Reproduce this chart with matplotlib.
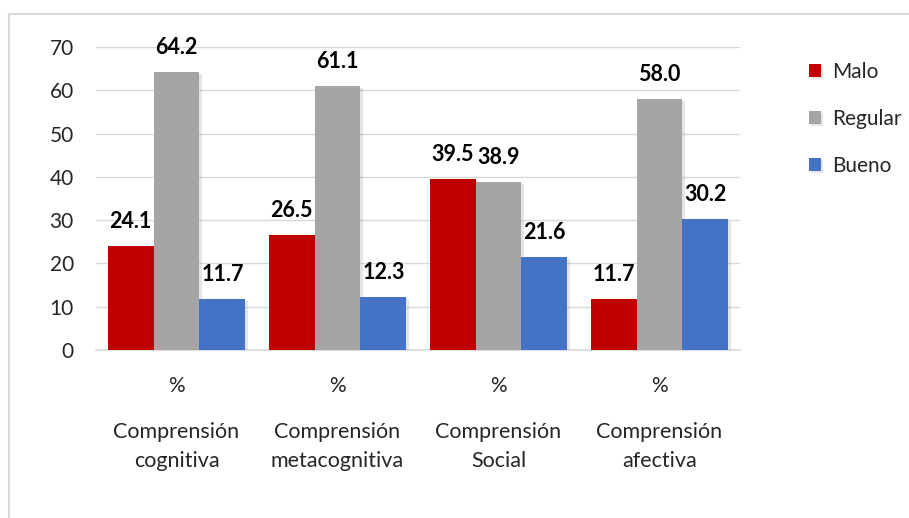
import matplotlib
matplotlib.use("Agg")
import matplotlib.pyplot as plt
import matplotlib.patheffects as pe
from matplotlib.lines import Line2D
import numpy as np

categories = ["Comprensión\ncognitiva", "Comprensión\nmetacognitiva",
              "Comprensión\nSocial", "Comprensión\nafectiva"]
series_names = ["Malo", "Regular", "Bueno"]
malo = [24.1, 26.5, 39.5, 11.7]
regular = [64.2, 61.1, 38.9, 58.0]
bueno = [11.7, 12.3, 21.6, 30.2]
yticks = [0, 10, 20, 30, 40, 50, 60, 70]

colors = ["#C00000", "#A5A5A5", "#4472C4"]
plt.rcParams["font.family"] = ["Lato", "DejaVu Sans"]
text_color = "#262626"

fig = plt.figure(figsize=(9.09, 5.18), dpi=100)
ax = fig.add_axes([96 / 909, 1 - 350 / 518, (740 - 96) / 909, (350 - 47) / 518])

x = np.arange(len(categories))
width = 0.2857
shadow = [pe.SimplePatchShadow(offset=(1.5, -1.5), shadow_rgbFace="#808080", alpha=0.2), pe.Normal()]
for i, (vals, name) in enumerate(zip([malo, regular, bueno], series_names)):
    pos = x + (i - 1) * width
    bars = ax.bar(pos, vals, width, color=colors[i], label=name, zorder=3)
    for b in bars:
        b.set_path_effects(shadow)
    for p, v in zip(pos, vals):
        ax.annotate(f"{v:.1f}", (p, v), xytext=(0, 10), textcoords="offset points",
                    ha="center", va="bottom", fontsize=15.5, fontweight="bold",
                    color="#000000", zorder=5, annotation_clip=False)

ax.set_xlim(-0.5, len(categories) - 0.5)
ax.set_ylim(0, 70)
ax.set_yticks(yticks)
ax.tick_params(axis="y", length=0, labelsize=15, pad=16, labelcolor=text_color)
ax.set_xticks(x)
ax.set_xticklabels(["%"] * len(categories))
ax.tick_params(axis="x", length=0, labelsize=15, pad=19, labelcolor=text_color)
for xi, cat in zip(x, categories):
    ax.annotate(cat, (xi, 0), xytext=(0, -52), textcoords="offset points",
                xycoords=("data", "axes fraction"), ha="center", va="top",
                fontsize=15.5, color=text_color, linespacing=1.55, annotation_clip=False)

ax.grid(axis="y", color="#D9D9D9", linewidth=1, zorder=0)
for s in ["top", "right", "left"]:
    ax.spines[s].set_visible(False)
ax.spines["bottom"].set_color("#D9D9D9")
ax.spines["bottom"].set_linewidth(1.2)

fig.legend(loc="upper left", bbox_to_anchor=(790 / 909, 1 - 43 / 518), frameon=False,
           fontsize=15, labelspacing=1.3, handlelength=0.6, handleheight=0.6,
           handletextpad=0.5, labelcolor=text_color)

# chart frame
fig.add_artist(Line2D([9 / 909, 9 / 909], [0, 1 - 14 / 518], color="#D9D9D9", lw=1.5,
                      transform=fig.transFigure))
fig.add_artist(Line2D([9 / 909, 1], [1 - 14 / 518, 1 - 14 / 518], color="#D9D9D9", lw=1.5,
                      transform=fig.transFigure))

fig.savefig("out.png", dpi=100)
